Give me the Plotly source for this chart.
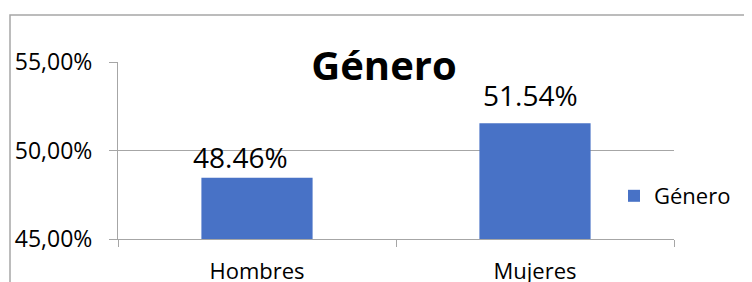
import plotly.graph_objects as go

categories = ["Hombres", "Mujeres"]
values = [48.46, 51.54]
series_name = "Género"
y_ticks = [45, 50, 55]

labels = [f"{v:.2f}%" for v in values]
y_tick_text = [f"{t:.2f}%".replace(".", ",") for t in y_ticks]

# the page places the figure 8px in from the window corner
OX, OY = 8, 8
# plot-area geometry in window px
L, R, T, B = 118 - OX, 674 - OX, 62 - OY, 239 - OY
W, H = 752, 282
pw, ph = R - L, B - T

def px_x(p):
    return (p - OX - L) / pw

def px_y(p):
    return (B - (p - OY)) / ph

FONT = "Open Sans"
GRID = "#a6a6a6"

# label offsets (style), as Excel placed them
label_dx = [-17, -5]
label_dy = [0, 7]

fig = go.Figure()
fig.add_trace(go.Bar(
    x=categories, y=values, name=series_name,
    marker=dict(color="#4872c6", line=dict(width=0)),
    width=0.4,
))

for c, v, t, dx, dy in zip(categories, values, labels, label_dx, label_dy):
    fig.add_annotation(x=c, y=v, text=t, showarrow=False, xref="x", yref="y",
                       xanchor="center", yanchor="bottom", xshift=dx, yshift=dy,
                       font=dict(family=FONT, size=28, color="#000000"))

fig.update_layout(
    width=W, height=H,
    margin=dict(l=L, r=W - R, t=T, b=H - B, pad=0, autoexpand=False),
    paper_bgcolor="white", plot_bgcolor="white",
    showlegend=True,
    legend=dict(x=px_x(614), xanchor="left", y=px_y(196), yanchor="middle",
                font=dict(family=FONT, size=22, color="#000000"),
                bgcolor="rgba(0,0,0,0)", borderwidth=0),
    title=dict(text="<b>Género</b>", x=px_x(384), xref="paper", xanchor="center",
               y=1 - (66 - OY) / H, yref="container", yanchor="middle",
               automargin=False,
               font=dict(family=FONT, size=40, color="#000000")),
    xaxis=dict(
        type="category", range=[-0.5, 1.5], automargin=False,
        showline=True, linecolor=GRID, linewidth=1,
        ticks="outside", ticklen=7, tickcolor=GRID, tickson="boundaries",
        showgrid=False, ticklabelstandoff=13,
        tickfont=dict(family=FONT, size=22, color="#000000"),
    ),
    yaxis=dict(
        range=[45, 55], tickvals=y_ticks, ticktext=y_tick_text, automargin=False,
        showline=True, linecolor=GRID, linewidth=1,
        ticks="outside", ticklen=8, tickcolor=GRID,
        showgrid=True, gridcolor=GRID, gridwidth=1,
        zeroline=False, ticklabelstandoff=12,
        tickfont=dict(family=FONT, size=23, color="#000000"),
    ),
)

# chart outer border (left and top visible within the frame)
fig.add_shape(type="rect", xref="paper", yref="paper",
              x0=px_x(10), x1=px_x(900), y0=px_y(400), y1=px_y(15),
              line=dict(color="#a6a6a6", width=1.5), fillcolor="rgba(0,0,0,0)",
              layer="below")

fig.write_html("out.html")
